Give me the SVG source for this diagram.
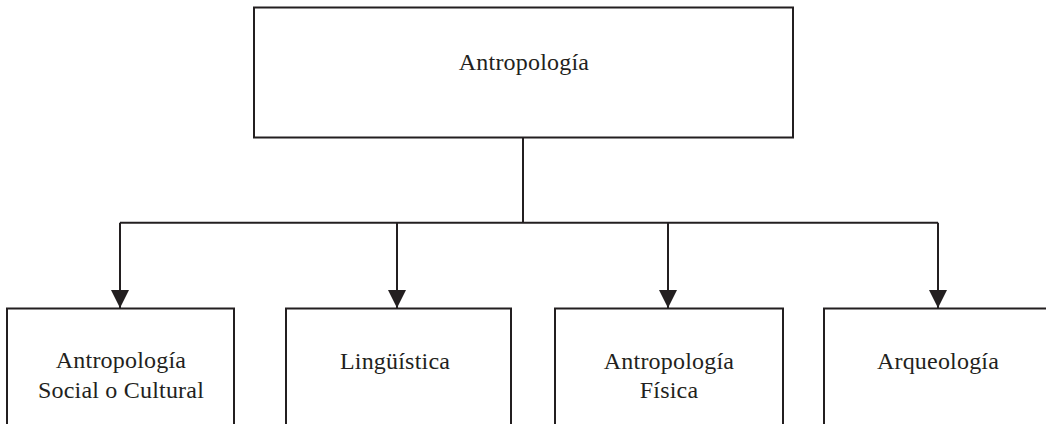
<svg xmlns="http://www.w3.org/2000/svg" width="1046" height="424" viewBox="0 0 1046 424">
<style>
.box{fill:#fff;stroke:#231f20;stroke-width:2}
.lbl{font-family:"Liberation Serif","Times New Roman",serif;font-size:24px;letter-spacing:0.2px;fill:#231f20;text-anchor:middle}
.conn{fill:none;stroke:#231f20;stroke-width:2}
</style>
<defs>
<marker id="arr" markerUnits="userSpaceOnUse" markerWidth="20" markerHeight="20" refX="18" refY="9" orient="auto">
<path d="M0,0 L18,9 L0,18 Z" fill="#231f20"/>
</marker>
</defs>
<rect width="1046" height="424" fill="#fff"/>
<g id="antropologia">
<rect class="box" x="254" y="7.5" width="539" height="130"/>
<text class="lbl" x="524" y="70">Antropología</text>
</g>
<g id="social-cultural">
<rect class="box" x="7" y="308.5" width="227" height="130"/>
<text class="lbl" x="121" y="368">Antropología</text>
<text class="lbl" x="121" y="398">Social o Cultural</text>
</g>
<g id="linguistica">
<rect class="box" x="286" y="308.5" width="225" height="130"/>
<text class="lbl" x="395" y="369">Lingüística</text>
</g>
<g id="fisica">
<rect class="box" x="555" y="308.5" width="228" height="130"/>
<text class="lbl" x="669" y="369">Antropología</text>
<text class="lbl" x="669" y="398">Física</text>
</g>
<g id="arqueologia">
<rect class="box" x="824" y="308.5" width="240" height="130"/>
<text class="lbl" x="938" y="369">Arqueología</text>
</g>
<g id="connectors">
<path class="conn" d="M523,137.5 V222.7"/>
<path class="conn" d="M120,222.7 H938"/>
<path class="conn" d="M120,222.7 V308" marker-end="url(#arr)"/>
<path class="conn" d="M397,222.7 V308" marker-end="url(#arr)"/>
<path class="conn" d="M668,222.7 V308" marker-end="url(#arr)"/>
<path class="conn" d="M938,222.7 V308" marker-end="url(#arr)"/>
</g>
</svg>
